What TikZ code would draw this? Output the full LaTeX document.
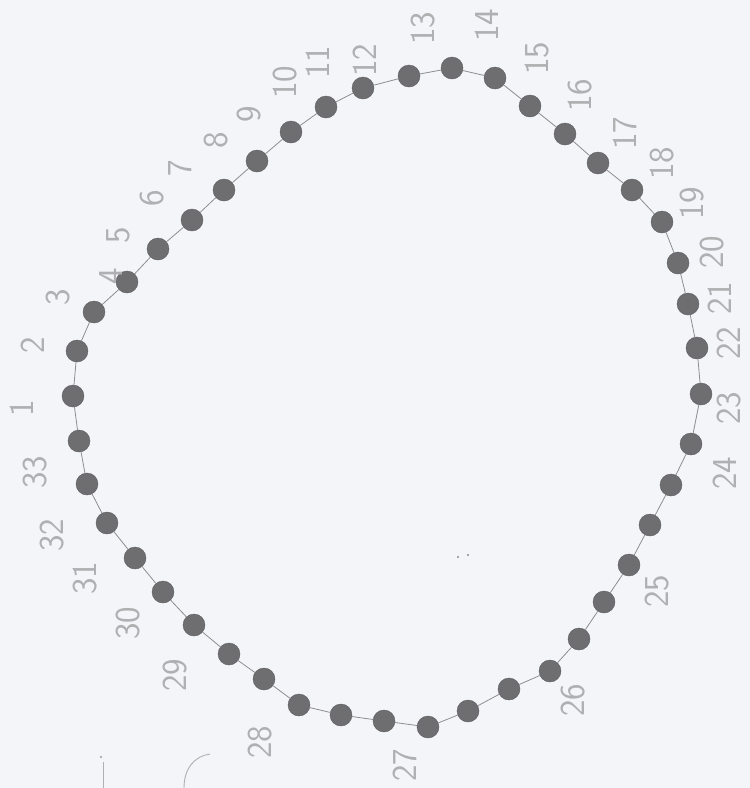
\documentclass[tikz,border=0pt]{standalone}
\usepackage{fontspec}
\definecolor{paper}{HTML}{F3F5F8}
\definecolor{dotfill}{HTML}{6E6E70}
\definecolor{labgray}{HTML}{B0B0B2}
\definecolor{linegray}{HTML}{8E8E90}
\tikzset{
  bead/.style={circle, fill=dotfill, draw=dotfill!85!black, line width=0.4pt, minimum size=22pt, inner sep=0pt},
  beadlabel/.style={text=labgray, font=\sffamily\fontsize{35}{35}\selectfont, rotate=90, inner sep=0pt},
  linkline/.style={draw=linegray, line width=0.8pt},
  faint/.style={draw=labgray, line width=0.9pt}
}
\begin{document}
\begin{tikzpicture}[x=1pt,y=-1pt]
\fill[paper] (0,0) rectangle (750,788);
\useasboundingbox (0,0) rectangle (750,788);
% beads
\foreach \i/\x/\y in {1/452/68, 2/495/78, 3/530/106, 4/565/134, 5/598/163, 6/632/190,
  7/662/222, 8/678/263, 9/688/304, 10/697/348, 11/701/394, 12/691/444, 13/671/485,
  14/650/525, 15/629/565, 16/604/602, 17/579/639, 18/550/671, 19/509/689, 20/468/711,
  21/428/727, 22/384/721, 23/341/715, 24/299/705, 25/264/679, 26/229/654, 27/194/625,
  28/163/592, 29/135/558, 30/107/523, 31/87/484, 32/79/441, 33/73/396, 34/77/351,
  35/94/312, 36/127/282, 37/158/249, 38/192/220, 39/224/190, 40/257/161, 41/291/132,
  42/326/107, 43/363/88, 44/409/76}
  \node[bead] (d\i) at (\x,\y) {};
% links
\foreach \a/\b in {1/2,2/3,3/4,4/5,5/6,6/7,7/8,8/9,9/10,10/11,11/12,12/13,13/14,14/15,
  15/16,16/17,17/18,18/19,19/20,20/21,21/22,22/23,23/24,24/25,25/26,26/27,27/28,28/29,
  29/30,30/31,31/32,32/33,33/34,34/35,35/36,36/37,37/38,38/39,39/40,40/41,41/42,42/43,
  43/44,44/1}
  \draw[linkline] (d\a) -- (d\b);
% labels
\foreach \t/\x/\y in {1/22/408, 2/33/345, 3/58/297, 4/111/276, 5/118/235, 6/152/198,
  7/180/168, 8/216/140, 9/249/114, 10/285/82, 11/318/62, 12/365/60, 13/423/28,
  14/487/25, 15/537/58, 16/580/95, 17/625/133, 18/662/163, 19/692/203, 20/712/252,
  21/720/298, 22/729/343, 23/729/408, 24/725/473, 25/657/591, 26/573/700, 27/405/765,
  28/260/742, 29/175/675, 30/128/623, 31/85/578, 32/52/535, 33/35/472}
  \node[beadlabel] (l\t) at (\x,\y) {\t};
% stray marks of the sheet
\coordinate (arcA) at (184,788);
\coordinate (arcB) at (210,754);
\draw[faint] (arcA) .. controls (184,768) and (195,756) .. (arcB);
\coordinate (tickA) at (103,762);
\coordinate (tickB) at (103,788);
\draw[faint, line width=0.7pt] (tickA) -- (tickB);
\fill[labgray] (101,757) circle (1.3pt);
\fill[labgray!80!black] (458,557) circle (1.2pt);
\fill[labgray!80!black] (468,555) circle (1.2pt);
\end{tikzpicture}
\end{document}
